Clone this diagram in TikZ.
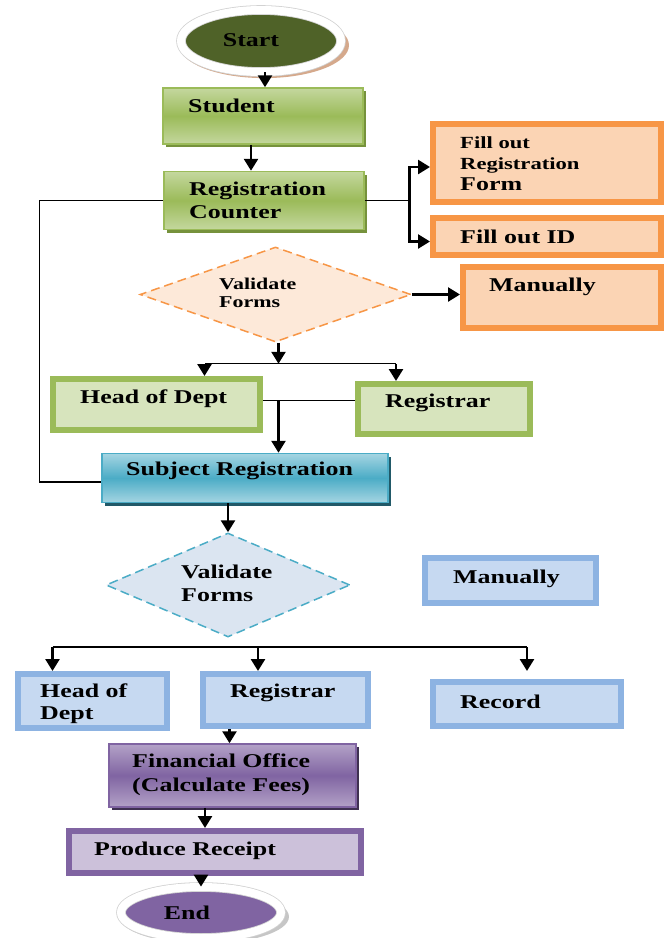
\documentclass[tikz,border=0pt]{standalone}
\usepackage{fontspec}
\setmainfont{Liberation Serif}[FakeStretch=1.33]
\usetikzlibrary{arrows.meta,shapes.geometric,shadows}
\definecolor{startgrn}{HTML}{4F6228}
\definecolor{grnlight}{HTML}{C4D79E}
\definecolor{grnmid}{HTML}{9BBB59}
\definecolor{grnshade}{HTML}{76923C}
\definecolor{grnfill}{HTML}{D7E4BD}
\definecolor{orgline}{HTML}{F79646}
\definecolor{orgfill}{HTML}{FBD4B4}
\definecolor{orgpale}{HTML}{FDE9D9}
\definecolor{tealmid}{HTML}{4BACC6}
\definecolor{teallight}{HTML}{A5D5E2}
\definecolor{tealshade}{HTML}{215968}
\definecolor{bluepale}{HTML}{DBE5F1}
\definecolor{blueline}{HTML}{8DB3E2}
\definecolor{bluefill}{HTML}{C6D9F1}
\definecolor{purmid}{HTML}{8064A2}
\definecolor{purlight}{HTML}{B3A2C7}
\definecolor{purshade}{HTML}{3F3151}
\definecolor{purfill}{HTML}{CCC1DA}
\definecolor{tanshade}{HTML}{D5A98C}
\tikzset{
  lbl/.style={anchor=west, inner sep=0pt, align=left, font=\fontsize{19.5}{23}\selectfont\bfseries},
  arr/.style={-{Triangle[length=12pt,width=14pt]}, line width=2.6pt},
  link/.style={line width=1.4pt},
  oval/.style={ellipse, draw=gray!35, line width=0.8pt, double=white, double distance=8pt},
  grad/.style={rectangle, draw=#1, line width=1.5pt},
  thick box/.style={rectangle, draw=#1, line width=6pt},
  choice/.style={diamond, draw=#1, dashed, dash pattern=on 9pt off 5pt, line width=1.5pt}
}
\begin{document}
\begin{tikzpicture}[x=1pt,y=-1pt]
\useasboundingbox (0,0) rectangle (664,938);
% upper part
\node[oval, fill=startgrn, drop shadow={shadow xshift=3pt,shadow yshift=-4pt,shadow scale=1.06,fill=tanshade,opacity=1}, minimum width=160pt, minimum height=62pt] (start) at (261,41) {};
\node[grad=grnmid, top color=grnlight, bottom color=grnlight, middle color=grnmid, drop shadow={shadow xshift=3pt,shadow yshift=-3pt,fill=grnshade,opacity=1}, minimum width=200pt, minimum height=56pt] (stu) at (263,116) {};
\node[grad=grnmid, top color=grnlight, bottom color=grnlight, middle color=grnmid, drop shadow={shadow xshift=3pt,shadow yshift=-3pt,fill=grnshade,opacity=1}, minimum width=200pt, minimum height=58pt] (reg) at (264,200.5) {};
\node[thick box=orgline, fill=orgfill, minimum width=228pt, minimum height=78pt] (frm) at (547,163) {};
\node[thick box=orgline, fill=orgfill, minimum width=228pt, minimum height=37pt] (fid) at (547,236.5) {};
\node[choice=orgline, fill=orgpale, minimum width=271pt, minimum height=95pt] (vf1) at (275.5,294.5) {};
\node[thick box=orgline, fill=orgfill, minimum width=198pt, minimum height=61pt] (man1) at (562,297.5) {};
\node[thick box=grnmid, fill=grnfill, minimum width=207pt, minimum height=51pt] (hod1) at (156.5,404.5) {};
\node[thick box=grnmid, fill=grnfill, minimum width=172pt, minimum height=50pt] (reg1) at (444,409) {};
\node[grad=tealmid, top color=teallight, bottom color=teallight, middle color=tealmid, drop shadow={shadow xshift=3pt,shadow yshift=-3pt,fill=tealshade,opacity=1}, minimum width=286pt, minimum height=49pt] (subj) at (245,478) {};
% lower part
\node[choice=tealmid, fill=bluepale, minimum width=244pt, minimum height=104pt] (vf2) at (228,585) {};
\node[thick box=blueline, fill=bluefill, minimum width=171pt, minimum height=45pt] (man2) at (510.5,580.5) {};
\node[thick box=blueline, fill=bluefill, minimum width=149pt, minimum height=54pt] (hod2) at (92.5,701) {};
\node[thick box=blueline, fill=bluefill, minimum width=165pt, minimum height=52pt] (reg2) at (285.5,700) {};
\node[thick box=blueline, fill=bluefill, minimum width=188pt, minimum height=44pt] (rec) at (527,704) {};
\node[grad=purmid, top color=purlight, bottom color=purlight, middle color=purmid, drop shadow={shadow xshift=3pt,shadow yshift=-3pt,fill=purshade,opacity=1}, minimum width=247pt, minimum height=63pt] (fin) at (232.5,775.5) {};
\node[thick box=purmid, fill=purfill, minimum width=292pt, minimum height=42pt] (rcpt) at (215,852) {};
\node[oval, fill=purmid, drop shadow={shadow xshift=3pt,shadow yshift=-4pt,shadow scale=1.06,fill=gray!45,opacity=1}, minimum width=160pt, minimum height=51pt] (end) at (201,912.5) {};
% texts
\node[lbl, anchor=center] (startT) at (251,40) {Start};
\node[lbl] (stuT) at (188,106) {Student};
\node[lbl] (regT) at (189,200.5) {Registration\\Counter};
\node[lbl, font=\fontsize{17}{21}\selectfont\bfseries] (frmT) at (460,164) {Fill out\\Registration\\{\fontsize{19.5}{21}\selectfont Form}};
\node[lbl] (fidT) at (460,237) {Fill out ID};
\node[lbl, font=\fontsize{16.5}{18}\selectfont\bfseries] (vf1T) at (219,293) {Validate\\Forms};
\node[lbl] (man1T) at (489,287) {Manually};
\node[lbl] (hod1T) at (80,399) {Head of Dept};
\node[lbl] (reg1T) at (385,403) {Registrar};
\node[lbl] (subjT) at (126,471) {Subject Registration};
\node[lbl] (vf2T) at (181,583.5) {Validate\\Forms};
\node[lbl] (man2T) at (453,579) {Manually};
\node[lbl, font=\fontsize{19.5}{22}\selectfont\bfseries] (hod2T) at (40,704) {Head of\\Dept};
\node[lbl] (reg2T) at (230,693) {Registrar};
\node[lbl] (recT) at (460,702) {Record};
\node[lbl, font=\fontsize{19.5}{24}\selectfont\bfseries] (finT) at (132,775) {Financial Office\\(Calculate Fees)};
\node[lbl] (rcptT) at (94,851) {Produce Receipt};
\node[lbl, anchor=center] (endT) at (187,913) {End};
% connectors
\draw[arr] ([xshift=4pt]start.south) -- ([xshift=4pt]start.south |- stu.north);
\draw[arr] ([xshift=-12pt]stu.south) -- ([xshift=-12pt]stu.south |- reg.north);
\draw[link] (reg.east) -- ++(45,0) coordinate (rsplit);
\draw[arr] (rsplit) |- ([yshift=-4pt]frm.west);
\draw[arr] (rsplit) |- ([yshift=-5pt]fid.west);
\draw[link] (reg.west) -- ++(-124,0) |- ([yshift=-4pt]subj.west);
\draw[arr] (vf1.east) -- (vf1.east -| man1.west);
\draw[arr] ([xshift=3pt]vf1.south) -- ++(0,21) coordinate (j1);
\draw[link] (j1) -- ([xshift=48pt]hod1.north |- j1);
\draw[link] (j1) -- ([xshift=-48pt]reg1.north |- j1);
\draw[arr] ([xshift=48pt]hod1.north |- j1) -- ([xshift=48pt]hod1.north);
\draw[arr] ([xshift=-48pt]reg1.north |- j1) -- ([xshift=-48pt]reg1.north);
\draw[link] ([yshift=4pt]hod1.east) -- ([yshift=4pt]hod1.east -| reg1.west);
\draw[arr] ([yshift=4pt]hod1.east -| j1) -- (j1 |- subj.north);
\draw[arr] (vf2.north |- subj.south) -- (vf2.north);
\coordinate (fan) at (258,647);
\draw[link] (fan -| hod2.north) ++(-40,0) coordinate (fanL) -- (fan -| rec.north) coordinate (fanR);
\draw[arr] (fanL) -- ([xshift=-40pt]hod2.north);
\draw[arr] (fanR) -- ([yshift=8pt]rec.north);
\draw[arr] (fan) -- (fan |- reg2.north);
\draw[arr] ([xshift=-56pt]reg2.south) -- ([xshift=-56pt]reg2.south |- fin.north);
\draw[arr] ([xshift=-10pt]rcpt.north |- fin.south) -- ([xshift=-10pt]rcpt.north);
\draw[arr] (rcpt.south -| end.north) -- (end.north);
\end{tikzpicture}
\end{document}
